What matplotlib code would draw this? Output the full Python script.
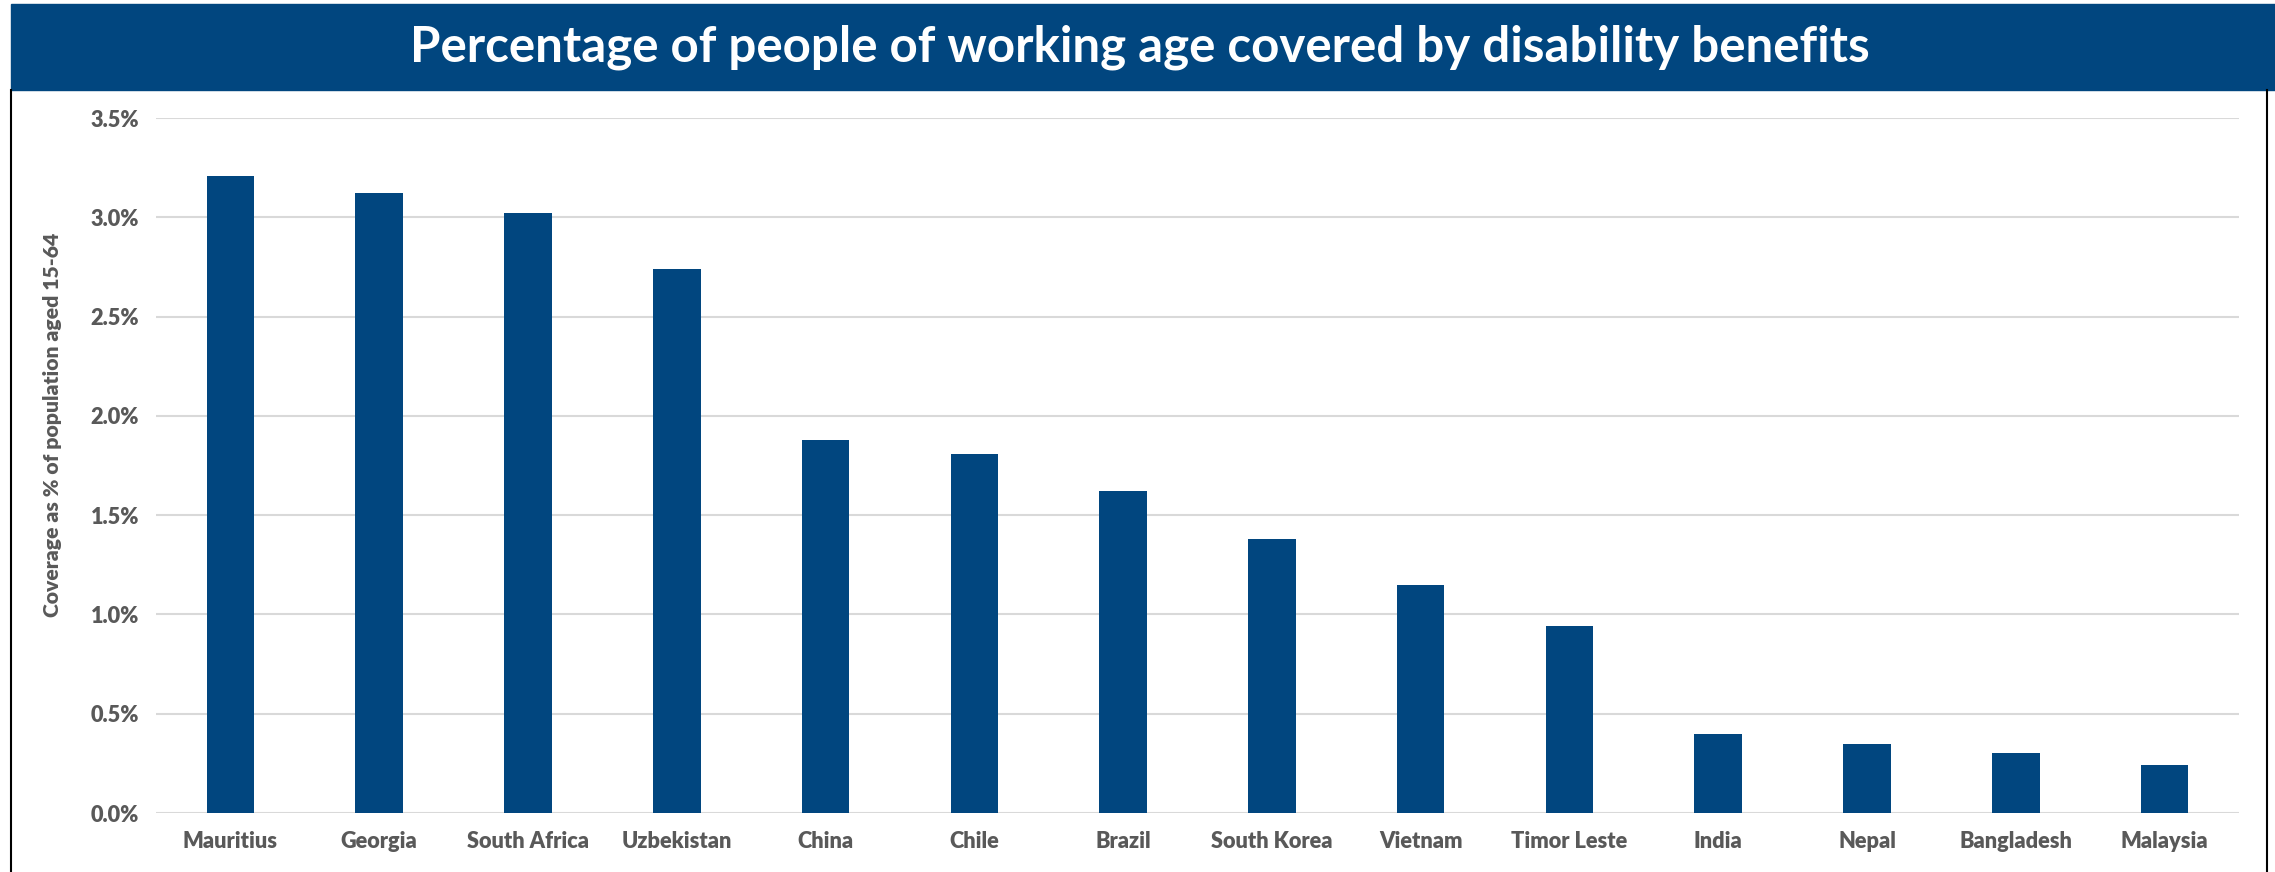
import matplotlib.pyplot as plt
from matplotlib.patches import Rectangle
from matplotlib.lines import Line2D
from matplotlib.ticker import FuncFormatter

countries = ["Mauritius", "Georgia", "South Africa", "Uzbekistan", "China", "Chile",
             "Brazil", "South Korea", "Vietnam", "Timor Leste", "India", "Nepal",
             "Bangladesh", "Malaysia"]
coverage = [3.21, 3.12, 3.02, 2.74, 1.88, 1.81, 1.62, 1.38, 1.15, 0.94, 0.40, 0.35, 0.30, 0.24]
yticks = [0.0, 0.5, 1.0, 1.5, 2.0, 2.5, 3.0, 3.5]

BLUE = "#01467F"
GREY = "#595959"

plt.rcParams["font.family"] = ["Lato", "DejaVu Sans"]
plt.rcParams["font.weight"] = "bold"

W, H = 2275, 872
fig = plt.figure(figsize=(W / 100, H / 100), dpi=100)

# title banner
fig.patches.append(Rectangle((11 / W, 1 - 90 / H), 1 - 11 / W, 86 / H,
                             transform=fig.transFigure, color=BLUE, zorder=0))
fig.text(1140 / W, 1 - 47 / H,
         "Percentage of people of working age covered by disability benefits",
         color="white", fontsize=35.5, fontweight="bold", ha="center", va="center")
# frame lines under the banner
fig.lines.append(Line2D([11 / W, 11 / W], [0, 1 - 90 / H], transform=fig.transFigure,
                        color="black", lw=1.5))
fig.lines.append(Line2D([2267 / W, 2267 / W], [0, 1 - 90 / H], transform=fig.transFigure,
                        color="black", lw=1.5))

ax = fig.add_axes([156 / W, 1 - 813 / H, (2239 - 156) / W, (813 - 118) / H])
x = range(len(countries))
ax.bar(x, coverage, width=0.32, color=BLUE, zorder=3)
ax.set_xlim(-0.5, len(countries) - 0.5)
ax.set_ylim(0, 3.5)
ax.set_yticks(yticks)
ax.yaxis.set_major_formatter(FuncFormatter(lambda v, p: f"{v:.1f}%"))
ax.set_xticks(list(x))
ax.set_xticklabels(countries)
ax.grid(axis="y", color="#D9D9D9", lw=1.5, zorder=0)
for s in ax.spines.values():
    s.set_visible(False)
ax.tick_params(length=0, labelsize=15.7, labelcolor=GREY, pad=12)
ax.tick_params(axis="x", pad=13)
for lab in ax.get_xticklabels() + ax.get_yticklabels():
    lab.set_fontweight("heavy")
ax.set_ylabel("Coverage as % of population aged 15-64", fontsize=15.2,
              color=GREY, fontweight="heavy")
ax.yaxis.set_label_coords((62 - 156) / (2239 - 156), 0.558)

fig.savefig("out.png", dpi=100)
